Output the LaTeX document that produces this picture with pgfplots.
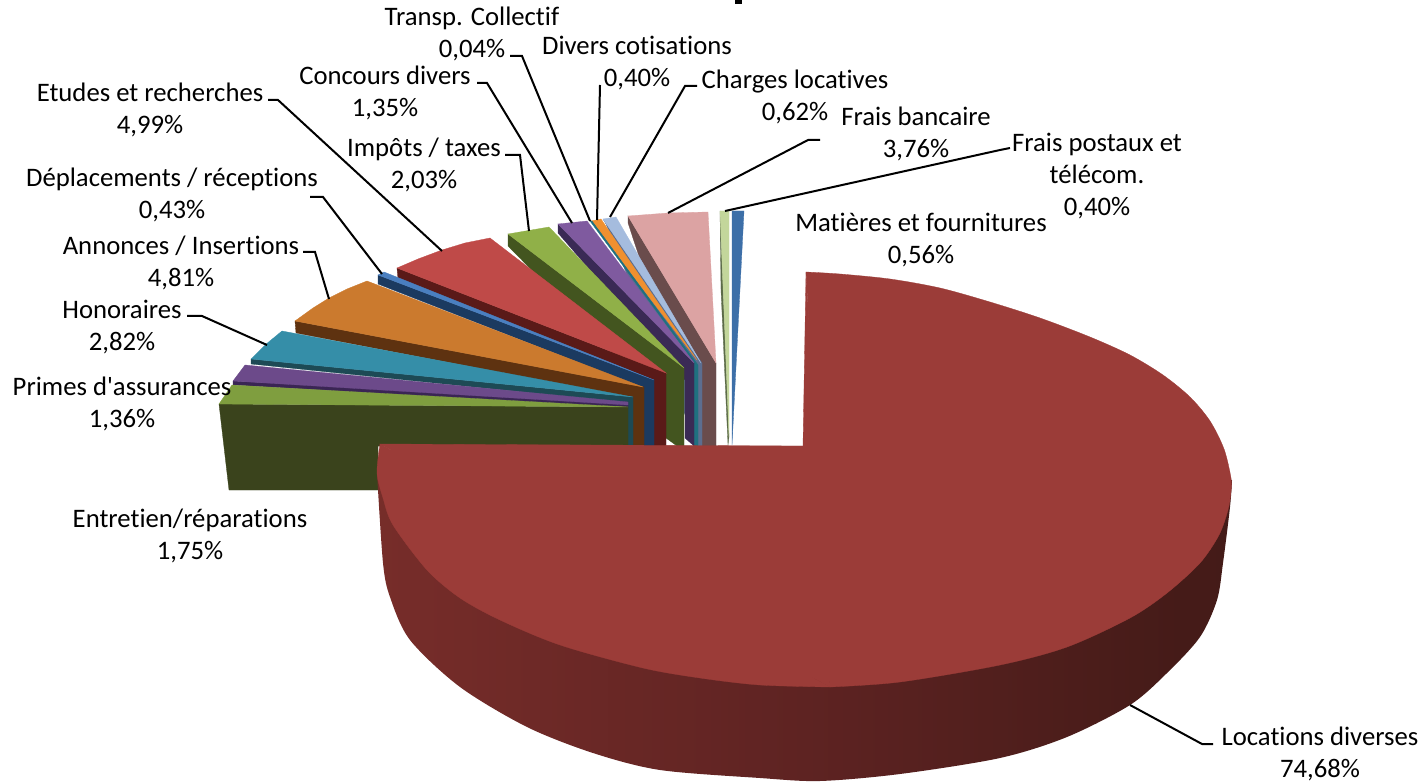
\documentclass[border=0pt]{standalone}
\usepackage{fontspec}
\setmainfont[Ligatures=NoCommon]{Carlito}
\newfontfamily\labfont[Ligatures=NoCommon]{Carlito}
\usepackage{pgfplots}
\pgfplotsset{compat=1.18}
\definecolor{bigtop}{HTML}{9B3C38}
\definecolor{sa}{HTML}{86382F}
\definecolor{sb}{HTML}{752C29}
\definecolor{sc}{HTML}{5E2322}
\definecolor{sd}{HTML}{451B18}
\definecolor{se}{HTML}{3E1715}
\pgfdeclarehorizontalshading{bigside}{100bp}{color(0bp)=(sa); color(27bp)=(sb); color(50bp)=(sc); color(72bp)=(sd); color(100bp)=(se)}
\definecolor{entT}{HTML}{7F9E3F}\definecolor{entS}{HTML}{3A431C}
\definecolor{priT}{HTML}{6C4A8A}\definecolor{priS}{HTML}{3A2554}
\definecolor{honT}{HTML}{358EA8}\definecolor{honS}{HTML}{1D4A55}
\definecolor{annT}{HTML}{CB7A2E}\definecolor{annS}{HTML}{5E3210}
\definecolor{depT}{HTML}{4A7FC0}\definecolor{depS}{HTML}{1B3A60}
\definecolor{etuT}{HTML}{BF4A48}\definecolor{etuS}{HTML}{5A1A18}
\definecolor{impT}{HTML}{90B048}\definecolor{impS}{HTML}{43551F}
\definecolor{conT}{HTML}{7F5A9F}\definecolor{conS}{HTML}{3A2A55}
\definecolor{traS}{HTML}{1F7080}
\definecolor{divT}{HTML}{F0902F}
\definecolor{chaT}{HTML}{A5BCDE}\definecolor{chaS}{HTML}{5C6E90}
\definecolor{fbaT}{HTML}{DCA3A3}\definecolor{fbaS}{HTML}{6A4C4C}
\definecolor{posT}{HTML}{C3D69B}\definecolor{posS}{HTML}{5C6B48}
\definecolor{matT}{HTML}{3D6FA8}
\newcommand\poly[2]{\addplot[draw=#1,line width=0.3pt,fill=#1] coordinates {#2} -- cycle;}
\newcommand\arc[2]{\addplot[draw=#1,line width=0.3pt,fill=#1,smooth,tension=0.5] coordinates {#2} -- cycle;}
\newcommand\lead[1]{\addplot[black,line width=2pt] coordinates {#1};}
\newcommand\lab[3]{\node[align=center,inner sep=0pt,text=black,yshift=-2pt,font=\labfont\fontsize{26.7}{32}\selectfont] at (axis cs:#1,#2) {#3};}
\begin{document}
\begin{tikzpicture}
\useasboundingbox (0,0) rectangle (1423pt,783pt);
\begin{axis}[anchor=south west,at={(0,0)},scale only axis,width=1423pt,height=783pt,
  xmin=0,xmax=1423,ymin=0,ymax=783,y dir=reverse,hide axis,clip=false]
% title fragment
\poly{black}{(735,0)(741,0)(741,3)(735,3)}
% Matieres
\poly{matT}{(732,211)(744,211)(732,445)}
% Frais postaux
\poly{posS}{(720,211)(721,290)(728,445)(729,437)}
\poly{posT}{(720,211)(729,211)(729,437)}
% Frais bancaire
\poly{fbaS}{(628,216)(628,223)(702,446)(716,446)(716,363)}
\poly{fbaT}{(628,216)(668,213)(708,212)(716,363)}
% Charges
\poly{chaS}{(603,219)(606,224)(698,446)(702,446)(702,363)}
\poly{chaT}{(603,219)(616,217)(701,363)}
% Divers
\poly{divT}{(591,221)(601,219)(697,360)}
% Transp
\poly{traS}{(590,221)(592,221)(698,365)(698,446)(694,446)(694,362)}
% Concours
\poly{conS}{(558,224)(558,233)(685,380)(685,438)(694,446)(694,363)}
\poly{conT}{(558,224)(587,221)(694,363)}
% Impots
\poly{impS}{(508,234)(508,246)(666,407)(666,438)(677,446)(684,446)(684,368)}
\poly{impT}{(508,234)(549,227)(684,368)}
% Etudes
\poly{etuS}{(397,268)(398,279)(654,380)(654,446)(666,446)(666,373)}
\poly{etuT}{(397,268)(418,259)(442,250)(465,243)(490,238)(666,373)}
% Deplacements
\poly{depS}{(378,275)(378,284)(644,388)(644,446)(654,446)(654,380)}
\poly{depT}{(378,275)(384,272)(654,380)}
% Annonces
\poly{annS}{(295,321)(296,333)(633,398)(633,446)(644,446)(644,387)}
\poly{annT}{(295,321)(313,308)(329,298)(347,289)(367,281)(643,387)}
% Honoraires
\poly{honS}{(251,359)(251,364)(628,403)(628,446)(633,446)(633,397)}
\poly{honT}{(251,359)(265,345)(282,331)(633,397)}
% Primes
\poly{priS}{(233,381)(233,385)(628,408)(628,402)}
\poly{priT}{(233,381)(245,365)(628,402)(628,405)}
% Entretien
\poly{entS}{(219,404)(628,407)(628,446)(378,446)(378,490)(229,490)}
\poly{entT}{(219,404)(232,385)(628,407)}
% Locations: side then top
\addplot[draw=none,smooth,tension=0.5,shading=bigside] coordinates {(377,473)(383,563)(390,597)(410,640)(460,687)(527,727)(593,753)(660,770)(760,778)(820,781)(900,774)(1000,758)(1067,737)(1130,705)(1167,673)(1200,637)(1217,600)(1223,563)(1230,507)(1232,480)} -- cycle;
\poly{bigtop}{(803,446)(806,272)(830,687)(380,444)}
\arc{bigtop}{(806,272)(840,274)(890,279)(940,288)(990,302)(1040,318)(1090,337)(1130,355)(1163,375)(1190,397)(1210,421)(1224,449)(1231,478)(1231,492)(1228,510)(1219,535)(1200,563)(1167,593)(1130,618)(1067,647)(1000,665)(900,682)(830,687)}
\arc{bigtop}{(830,687)(760,685)(700,678)(643,668)(560,645)(500,620)(460,598)(427,570)(393,525)(383,498)(377,473)(380,444)}
\poly{bigtop}{(809,280)(1100,360)(1190,480)(1100,600)(832,682)(500,610)(390,470)(390,450)(806,452)}
% leader lines
\lead{(510,56)(522,56)(590,221)}
\lead{(477,83)(487,83)(572,223)}
\lead{(600,85)(597,220)}
\lead{(697,86)(685,86)(610,217)}
\lead{(820,140)(808,140)(668,213)}
\lead{(1010,148)(1000,150)(725,211)}
\lead{(1213,744)(1202,744)(1130,705)}
\lead{(505,155)(520,155)(529,231)}
\lead{(268,100)(278,100)(442,251)}
\lead{(310,197)(323,197)(382,274)}
\lead{(303,252)(315,252)(329,299)}
\lead{(187,316)(202,316)(267,345)}
% labels
\lab{472}{32}{Transp. Collectif\\0,04\%}
\lab{637}{61}{Divers cotisations\\0,40\%}
\lab{795}{95}{Charges locatives\\0,62\%}
\lab{916}{132}{Frais bancaire\\3,76\%}
\lab{1097}{174}{Frais postaux et\\télécom.\\0,40\%}
\lab{921}{238}{Matières et fournitures\\0,56\%}
\lab{385}{91}{Concours divers\\1,35\%}
\lab{150}{108}{Etudes et recherches\\4,99\%}
\lab{424}{163}{Impôts / taxes\\2,03\%}
\lab{172}{193}{Déplacements / réceptions\\0,43\%}
\lab{181}{261}{Annonces / Insertions\\4,81\%}
\lab{122}{325}{Honoraires\\2,82\%}
\lab{122}{402}{Primes d'assurances\\1,36\%}
\lab{190}{534}{Entretien/réparations\\1,75\%}
\lab{1320}{752}{Locations diverses\\74,68\%}
\end{axis}
\end{tikzpicture}
\end{document}
